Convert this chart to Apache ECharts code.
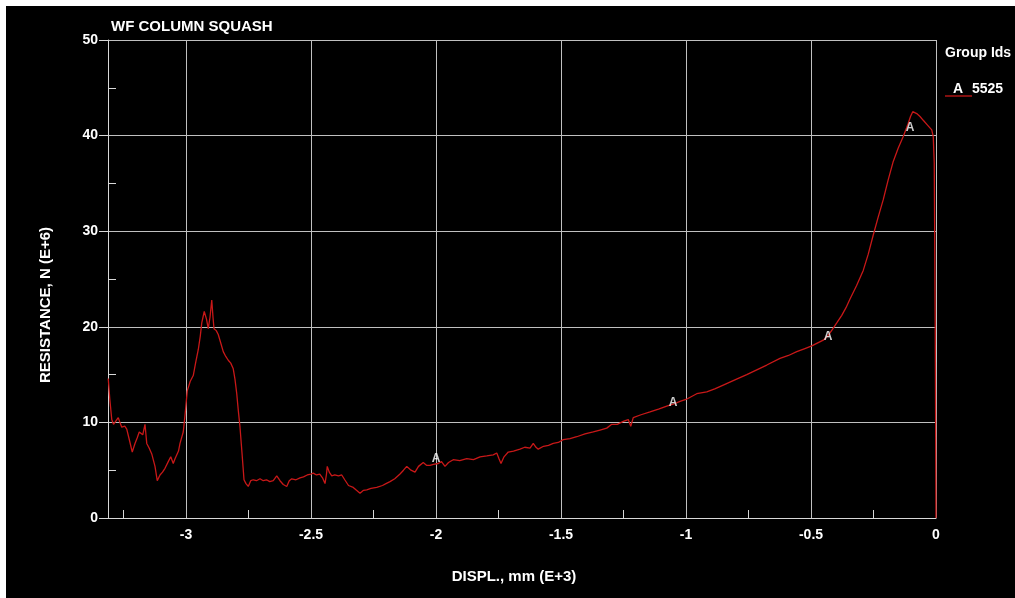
<!DOCTYPE html>
<html>
<head>
<meta charset="utf-8">
<script src="https://cdn.jsdelivr.net/npm/echarts@6/dist/echarts.min.js"></script>
<style>
html,body{margin:0;padding:0;background:#000;}
#c{width:1015px;height:598px;}
</style>
</head>
<body>
<div id="c"></div>
<script>
// Displacement, mm (E+3)
var displ = [
-3.311,-3.305,-3.297,-3.290,-3.282,-3.271,-3.263,-3.257,-3.245,-3.237,
-3.225,-3.215,-3.204,-3.195,-3.187,-3.180,-3.173,-3.164,-3.157,-3.147,
-3.137,-3.124,-3.115,-3.104,-3.094,-3.084,-3.071,-3.061,-3.051,-3.044,
-3.037,-3.030,-3.024,-3.011,-3.003,-2.995,-2.983,-2.971,-2.961,-2.951,
-2.943,-2.937,-2.927,-2.918,-2.911,-2.904,-2.897,-2.892,-2.888,-2.879,
-2.871,-2.861,-2.851,-2.841,-2.831,-2.821,-2.811,-2.804,-2.797,-2.791,
-2.784,-2.776,-2.768,-2.760,-2.751,-2.741,-2.731,-2.718,-2.704,-2.691,
-2.678,-2.665,-2.651,-2.637,-2.624,-2.611,-2.597,-2.587,-2.577,-2.560,
-2.544,-2.530,-2.515,-2.500,-2.491,-2.478,-2.465,-2.454,-2.444,-2.438,
-2.435,-2.427,-2.417,-2.405,-2.390,-2.377,-2.365,-2.350,-2.331,-2.318,
-2.304,-2.290,-2.277,-2.260,-2.237,-2.214,-2.200,-2.184,-2.165,-2.144,
-2.130,-2.117,-2.100,-2.084,-2.070,-2.051,-2.037,-2.024,-2.010,-1.991,
-1.978,-1.964,-1.950,-1.931,-1.905,-1.877,-1.850,-1.824,-1.797,-1.771,
-1.757,-1.748,-1.740,-1.728,-1.711,-1.690,-1.664,-1.645,-1.624,-1.611,
-1.600,-1.591,-1.570,-1.550,-1.531,-1.511,-1.491,-1.464,-1.437,-1.404,
-1.371,-1.344,-1.317,-1.297,-1.275,-1.251,-1.231,-1.221,-1.211,-1.180,
-1.144,-1.110,-1.077,-1.051,-1.024,-1.000,-0.957,-0.917,-0.885,-0.851,
-0.800,-0.757,-0.717,-0.677,-0.624,-0.590,-0.557,-0.527,-0.497,-0.475,
-0.451,-0.431,-0.415,-0.397,-0.377,-0.360,-0.344,-0.318,-0.291,-0.271,
-0.251,-0.231,-0.211,-0.191,-0.171,-0.151,-0.131,-0.118,-0.111,-0.102,
-0.093,-0.085,-0.077,-0.064,-0.051,-0.034,-0.017,-0.011,-0.007,-0.003,
0.000
];
// Resistance, N (E+6)
var resist = [
14.6,12.5,10.3,9.8,9.9,10.5,9.9,9.5,9.6,9.3,
8.0,6.9,7.8,8.4,9.0,8.9,8.7,9.8,7.8,7.3,
6.7,5.4,3.9,4.5,4.8,5.2,5.9,6.4,5.7,6.2,
6.0,7.0,7.8,9.0,11.0,13.3,14.3,14.9,16.3,17.6,
19.0,20.4,21.6,20.8,19.8,21.0,22.8,21.0,19.8,19.6,
19.2,18.3,17.4,16.9,16.5,16.2,15.6,14.5,13.0,11.3,
9.5,6.8,4.0,3.6,3.3,3.9,4.0,3.9,4.1,3.9,
4.0,3.8,3.9,4.4,3.9,3.5,3.3,3.9,4.1,4.0,
4.2,4.3,4.5,4.6,4.7,4.5,4.6,4.2,3.6,4.6,
5.4,4.8,4.4,4.5,4.4,4.5,4.0,3.4,3.2,2.9,
2.6,2.9,2.95,3.1,3.2,3.4,3.6,3.8,4.1,4.6,
5.0,5.4,5.0,4.8,5.4,5.8,5.5,5.5,5.6,5.7,
5.9,5.4,5.8,6.1,6.0,6.2,6.1,6.4,6.5,6.6,
6.8,6.2,5.7,6.4,6.9,7.0,7.2,7.4,7.3,7.8,
7.4,7.2,7.5,7.6,7.8,7.9,8.2,8.3,8.5,8.8,
9.0,9.2,9.4,9.8,9.8,10.1,10.3,9.6,10.5,10.8,
11.1,11.4,11.7,11.9,12.2,12.4,13.0,13.2,13.5,13.9,
14.5,15.0,15.5,16.0,16.7,17.0,17.4,17.7,18.0,18.3,
18.6,19.1,19.7,20.4,21.2,22.0,22.9,24.3,25.9,27.6,
29.6,31.5,33.3,35.4,37.3,38.7,39.9,40.8,41.3,42.0,
42.5,42.5,42.3,42.0,41.6,41.1,40.6,39.9,37.1,20.0,
0.0
];
// "A" markers along curve
var markX = [-2.0, -1.052, -0.432, -0.104];
var markY = [6.2, 12.1, 19.0, 40.8];
var xMajorTicks = [-3, -2.5, -2, -1.5, -1, -0.5, 0];
var xMinorTicks = [-3.25, -2.75, -2.25, -1.75, -1.25, -0.75, -0.25];
var yMinorTicks = [5, 15, 25, 35, 45];

var FONT = '"Liberation Sans", Arial, sans-serif';
var lineData = displ.map(function (x, i) { return [x, resist[i]]; });
var markData = markX.map(function (x, i) { return [x, markY[i]]; });
var PLOT_W = 1015 - 108 - 79;

var chart = echarts.init(document.getElementById('c'));
chart.setOption({
  animation: false,
  backgroundColor: '#000',
  grid: { left: 108, right: 79, top: 40, bottom: 80 },
  xAxis: [{
    type: 'value', min: -3.312, max: 0, position: 'bottom',
    axisLine: { show: true, onZero: false, lineStyle: { color: '#d8d8d8', width: 1 } },
    axisTick: { show: false, customValues: xMajorTicks },
    axisLabel: { customValues: xMajorTicks, color: '#fff', fontWeight: 'bold', fontSize: 14, fontFamily: FONT, margin: 10,
      formatter: function (v) { return String(v); } },
    splitLine: { show: true, lineStyle: { color: '#c0c0c0', width: 1 } }
  }, {
    type: 'value', min: -3.312, max: 0, position: 'bottom', offset: 0,
    axisLine: { show: false, onZero: false },
    axisTick: { show: true, inside: true, length: 8, customValues: xMinorTicks, lineStyle: { color: '#d8d8d8' } },
    axisLabel: { show: false },
    splitLine: { show: false }
  }],
  yAxis: [{
    type: 'value', min: 0, max: 50, interval: 10, position: 'left',
    axisLine: { show: true, onZero: false, lineStyle: { color: '#d8d8d8', width: 1 } },
    axisTick: { show: true, inside: false, length: 9, lineStyle: { color: '#d8d8d8' } },
    axisLabel: { color: '#fff', fontWeight: 'bold', fontSize: 14, fontFamily: FONT, margin: 10 },
    splitLine: { show: true, lineStyle: { color: '#c0c0c0', width: 1 } }
  }, {
    type: 'value', min: 0, max: 50, position: 'right', offset: -PLOT_W,
    axisLine: { show: false, onZero: false },
    axisTick: { show: true, inside: false, length: 8, customValues: yMinorTicks, lineStyle: { color: '#d8d8d8' } },
    axisLabel: { show: false },
    splitLine: { show: false }
  }],
  series: [{
    type: 'line', data: lineData, showSymbol: false, symbol: 'none',
    lineStyle: { color: '#c81818', width: 1.3 }, silent: true
  }, {
    type: 'scatter', data: markData, symbol: 'circle', symbolSize: 1,
    itemStyle: { color: 'rgba(0,0,0,0)' },
    label: { show: true, position: 'inside', formatter: 'A', color: '#fff', fontWeight: 'bold', fontSize: 12, fontFamily: FONT },
    z: 5, silent: true
  }],
  graphic: [
    { type: 'rect', shape: { x: 0, y: 0, width: 1015, height: 6 }, style: { fill: '#fff' }, z: 100 },
    { type: 'rect', shape: { x: 0, y: 0, width: 6, height: 598 }, style: { fill: '#fff' }, z: 100 },
    { type: 'text', x: 111, y: 27, style: { text: 'WF COLUMN SQUASH', fill: '#fff', font: 'bold 15px ' + FONT, textVerticalAlign: 'middle' } },
    { type: 'text', x: 514, y: 577, style: { text: 'DISPL., mm (E+3)', fill: '#fff', font: 'bold 15px ' + FONT, textAlign: 'center', textVerticalAlign: 'middle' } },
    { type: 'text', x: 46, y: 305, rotation: Math.PI / 2, style: { text: 'RESISTANCE, N (E+6)', fill: '#fff', font: 'bold 15px ' + FONT, textAlign: 'center', textVerticalAlign: 'middle' } },
    { type: 'text', x: 945, y: 53, style: { text: 'Group Ids', fill: '#fff', font: 'bold 14px ' + FONT, textVerticalAlign: 'middle' } },
    { type: 'line', shape: { x1: 945, y1: 96, x2: 972, y2: 96 }, style: { stroke: '#c81818', lineWidth: 1.3 } },
    { type: 'text', x: 958, y: 89, style: { text: 'A', fill: '#fff', font: 'bold 14px ' + FONT, textAlign: 'center', textVerticalAlign: 'middle' } },
    { type: 'text', x: 972, y: 89, style: { text: '5525', fill: '#fff', font: 'bold 14px ' + FONT, textVerticalAlign: 'middle' } }
  ]
});
</script>
</body>
</html>
